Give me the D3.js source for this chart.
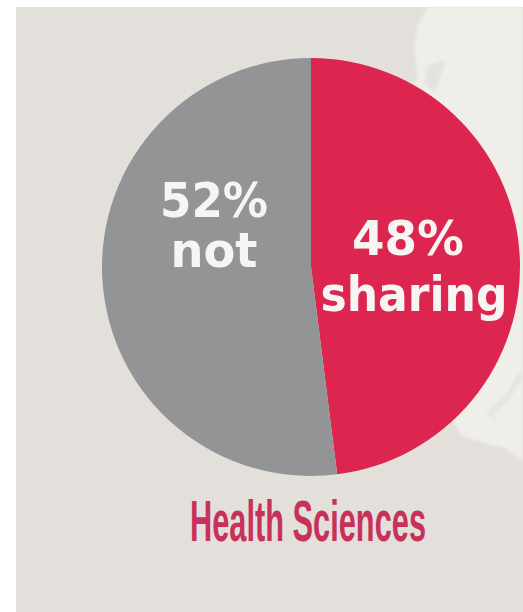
<!DOCTYPE html>
<html><head><meta charset="utf-8">
<script src="https://cdn.jsdelivr.net/npm/d3@7/dist/d3.min.js"></script>
<style>html,body{margin:0;padding:0;background:#fff}svg{display:block}</style></head>
<body><svg id="c" width="523" height="612"></svg>
<script>
const categories = ["sharing", "not"];
const values = [48, 52];
const colors = ["#dc264f", "#929496"];
const title = "Health Sciences";

const svg = d3.select("#c");
const defs = svg.append("defs");
defs.append("filter").attr("id","soft").append("feGaussianBlur").attr("stdDeviation",0.6);
defs.append("filter").attr("id","b").append("feGaussianBlur").attr("stdDeviation",1.5);
svg.append("rect").attr("x",16).attr("y",7).attr("width",507).attr("height",605).attr("fill","#e3e0dc");
// pale background map shapes
svg.append("path").attr("fill","#efeee9").attr("filter","url(#b)")
  .attr("d","M428,7 L523,7 L523,462 L505,448 L488,444 L462,436 L440,400 L400,100 L418,78 L414,50 L418,25 Z");
svg.append("path").attr("fill","#e4e2de").attr("filter","url(#b)")
  .attr("d","M428,66 L446,60 L440,78 L434,92 L424,82 Z");
svg.append("path").attr("fill","#dfddd8").attr("fill-opacity",0.6).attr("filter","url(#b)")
  .attr("d","M523,378 L508,402 L494,412 L497,428 L490,414 L482,420 L492,408 L505,396 L520,372 Z");

const cx = 311, cy = 267, r = 209;
const pie = d3.pie().sort(null).value(d => d)(values);
const arc = d3.arc().innerRadius(0).outerRadius(r);
const g = svg.append("g").attr("transform",`translate(${cx},${cy})`);
g.selectAll("path").data(pie).join("path").attr("d",arc).attr("fill",(d,i)=>colors[i]);

const lab = svg.append("g").attr("fill","#f6f5f3").attr("font-family","'DejaVu Sans'").attr("font-weight","700").attr("text-anchor","middle").attr("filter","url(#soft)");
function t(s,x,y,w){
  lab.append("text").attr("x",x).attr("y",y).attr("font-size",48).attr("textLength",w).attr("lengthAdjust","spacingAndGlyphs").text(s);
}
t(values[1]+"%",214,217,108);
t(categories[1],214,267,87);
t(values[0]+"%",408,255,112);
t(categories[0],414,311,187);

svg.append("text").attr("x",308).attr("y",541).attr("text-anchor","middle")
  .attr("font-family","'Liberation Sans'").attr("font-weight","700").attr("font-size",58)
  .attr("textLength",236).attr("lengthAdjust","spacingAndGlyphs")
  .attr("fill","#c8315a").text(title);
</script></body></html>
